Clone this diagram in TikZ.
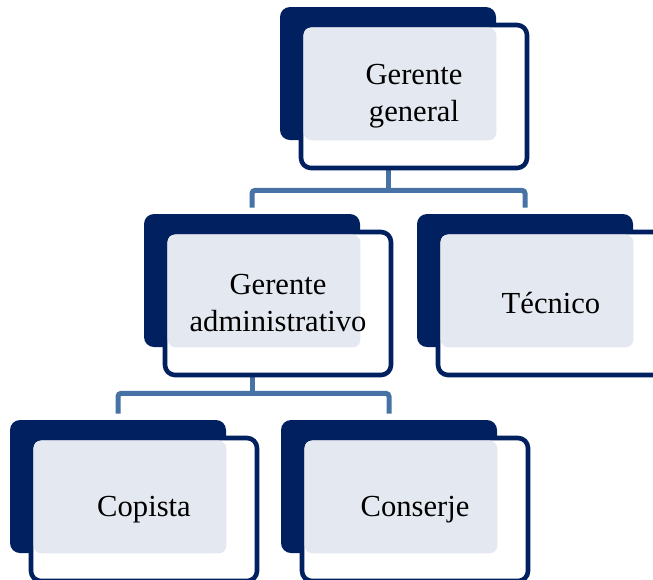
\documentclass[tikz,border=0pt]{standalone}
\usepackage{fontspec}
\setmainfont{Liberation Serif}
\usetikzlibrary{calc,backgrounds}
\definecolor{navy}{HTML}{002060}
\definecolor{paleblue}{HTML}{E4E8F0}
\definecolor{linkblue}{HTML}{4672A5}
\tikzset{
  backbox/.style={rectangle, rounded corners=5pt, fill=navy, minimum width=108pt, minimum height=66.5pt, inner sep=0pt},
  frontbox/.style={rectangle, rounded corners=5pt, fill=white, draw=navy, line width=2.3pt, minimum width=113pt, minimum height=71.5pt, inner sep=0pt},
  boxtext/.style={align=center, font=\fontsize{15.3}{18.5}\selectfont, text=black},
  link/.style={draw=linkblue, line width=2.5pt, rounded corners=1.5pt}
}

\begin{document}
\begin{tikzpicture}[x=0.5pt,y=-0.5pt]
\useasboundingbox (0,0) rectangle (653,579);

% boxes: back plate, front card, pale fill, text
\foreach \nm/\x/\y/\txt in {gg/280/7/{Gerente\\general}, ga/144/214/{Gerente\\administrativo}, tec/417/214/{T\'ecnico}, cop/10/420/{Copista}, con/281/420/{Conserje}}{
  \node[backbox] (\nm-b) at (\x+108,\y+66.5) {};
  \node[frontbox] (\nm) at (\x+134,\y+89.5) {};
  \fill[paleblue, rounded corners=4pt] ($(\nm.north west)+(5,5)$) rectangle (\nm-b.south east);
  \node[boxtext] (\nm-t) at (\nm) {\txt};
}

% connectors
\begin{scope}[on background layer]
  \coordinate (j1) at ($(gg-b.south)+(0,50)$);
  \draw[link] (gg-b) -- (j1);
  \draw[link, shorten <=3pt, shorten >=3pt] (ga-b.north) |- (j1) -| (tec-b.north);
  \coordinate (j2) at ($(ga-b.south)+(0,46)$);
  \draw[link] (ga-b) -- (j2);
  \draw[link, shorten <=3pt, shorten >=3pt] (cop-b.north) |- (j2) -| (con-b.north);
\end{scope}

\end{tikzpicture}
\end{document}
